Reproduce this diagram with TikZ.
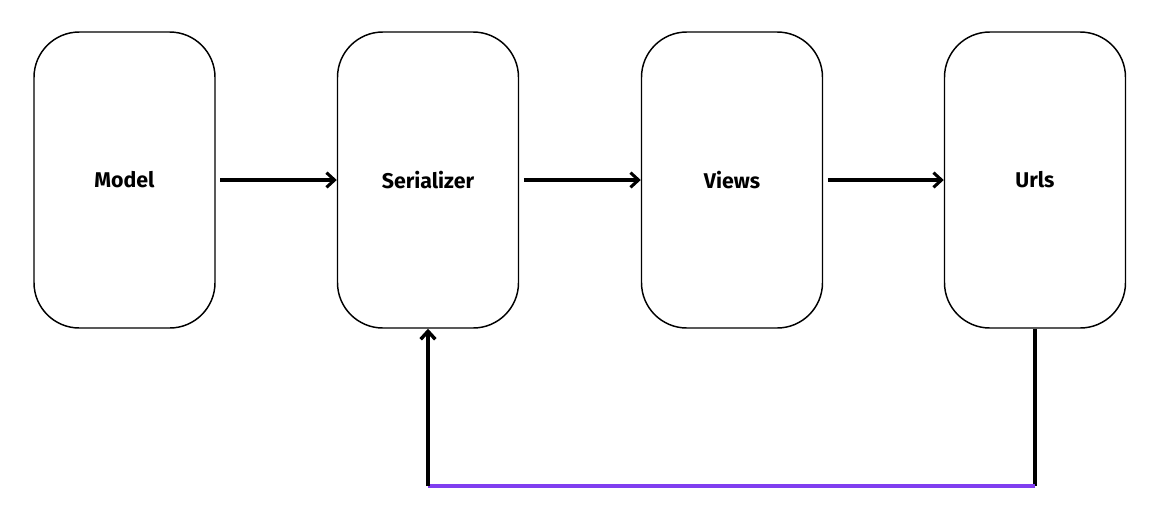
\documentclass[tikz,border=0pt]{standalone}
\usepackage{fontspec}
\setmainfont{Fira Sans}
\usetikzlibrary{arrows.meta}

\definecolor{loopviolet}{RGB}{128,62,240}

\begin{document}
\begin{tikzpicture}[x=0.75pt,y=-0.75pt,>={Straight Barb[length=6pt,width=11pt]},
  layer/.style={draw,line width=1.1pt,rounded corners=34pt,minimum width=135.75pt,
    minimum height=222pt,inner sep=0pt,font=\fontsize{16}{19}\selectfont\bfseries},
  link/.style={->,line width=2.3pt,shorten <=3.5pt}]
\useasboundingbox (0,0) rectangle (1164,522);
\node[layer] (model) at (124.5,180) {Model};
\node[layer] (ser)   at (428,180)   {Serializer};
\node[layer] (views) at (732,180)   {Views};
\node[layer] (urls)  at (1035,180)  {Urls};
\draw[link] (model) -- (ser);
\draw[link] (ser) -- (views);
\draw[link] (views) -- (urls);
% route back from urls to serializer
\coordinate (back1) at (urls.south |- 0,486);
\coordinate (back2) at (ser.south |- 0,486);
\draw[line width=2.6pt] (urls.south) -- (back1);
\draw[loopviolet,line width=3pt] (back1) -- (back2);
\draw[->,line width=2.6pt] (back2) -- (ser.south);
\end{tikzpicture}
\end{document}
